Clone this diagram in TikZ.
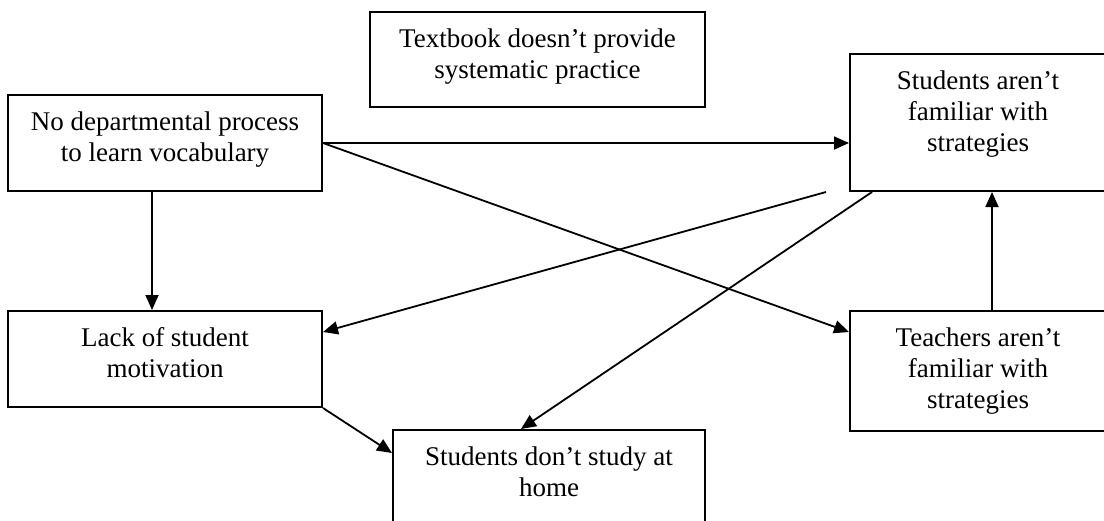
\documentclass[tikz,border=0pt]{standalone}
\usepackage{fontspec}
\setmainfont{Liberation Serif}
\usetikzlibrary{arrows.meta,calc}
\begin{document}
\begin{tikzpicture}[x=1pt,y=-1pt,
  box/.style={draw,line width=2pt,rectangle,inner sep=0pt},
  label text/.style={anchor=north,align=center,inner sep=0pt,
    font=\fontsize{27}{31}\selectfont},
  link/.style={line width=1.8pt,-{Triangle[length=15pt,width=13pt]}}]
\useasboundingbox (0,0) rectangle (1104,520);
\clip (0,0) rectangle (1104,520);

% boxes
\node[box,minimum width=335pt,minimum height=95pt]  (tb) at (537.5,59.5) {};
\node[box,minimum width=314pt,minimum height=96pt]  (np) at (165,143) {};
\node[box,minimum width=256pt,minimum height=137pt] (sa) at (978,122.5) {};
\node[box,minimum width=314pt,minimum height=96pt]  (lm) at (165,359) {};
\node[box,minimum width=256pt,minimum height=120pt] (ta) at (978,371) {};
\node[box,minimum width=312pt,minimum height=110pt] (sd) at (549,485) {};

% box texts, hung from the top of each box
\node[label text] (tb-t) at ($(tb.north)+(0,15)$) {\strut Textbook doesn’t provide\\systematic practice};
\node[label text] (np-t) at ($(np.north)+(0,15)$) {\strut No departmental process\\to learn vocabulary};
\node[label text] (sa-t) at ($(sa.north)+(0,15)$) {\strut Students aren’t\\familiar with\\strategies};
\node[label text] (lm-t) at ($(lm.north)+(0,15)$) {\strut Lack of student\\motivation};
\node[label text] (ta-t) at ($(ta.north)+(0,15)$) {\strut Teachers aren’t\\familiar with\\strategies};
\node[label text] (sd-t) at ($(sd.north)+(0,15)$) {\strut Students don’t study at\\home};

% free end below the strategies box
\coordinate (sa-free) at ($(sa.south west)+(-23,0)$);

% connectors
\draw[link] (np.east) -- (np.east -| sa.west);
\draw[link] (np.east) -- ($(ta.north west)+(0,22)$);
\draw[link] ($(np.south west)+(145,0)$) -- ($(lm.north west)+(145,0)$);
\draw[link] (sa-free) -- ($(lm.north east)+(0,22)$);
\draw[link] ($(sa.south west)+(23,0)$) -- ($(sd.north west)+(129,0)$);
\draw[link] ($(ta.north west)+(143,0)$) -- ($(sa.south west)+(143,0)$);
\draw[link] (lm.south east) -- ($(sd.north west)+(0,24)$);
\end{tikzpicture}
\end{document}
